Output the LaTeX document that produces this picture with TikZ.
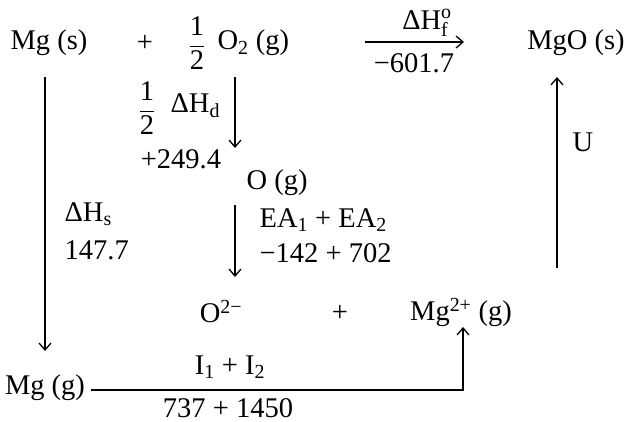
\documentclass[tikz,border=0pt]{standalone}
\usepackage{amsmath}
\usepackage{fontspec}
\setmainfont{Liberation Serif}
\usetikzlibrary{
  arrows.meta,
  positioning,
}
\newcommand{\halffrac}{\genfrac{}{}{0.8pt}{0}{\text{1}}{\text{2}}}

\begin{document}
\begin{tikzpicture}[
    x=1pt, y=-1pt,
    chem/.style={font=\fontsize{28.5}{33}\selectfont, inner sep=0pt},
    -{Straight Barb[length=7pt, width=12pt]}, line width=1.3pt,
  ]
  \useasboundingbox (0,0) rectangle (630,422);

  % Top line: Mg (s) + 1/2 O2 (g) -> MgO (s)
  \node[chem] (mgs)  at (49,43)  {Mg (s)};
  \node[chem] (plusa) at (145,43) {+};
  \node[chem] (half) at (197,43) {$\halffrac$};
  \node[chem, anchor=west] (otwo) at (217,43) {O\textsubscript{2} (g)};
  \node[chem] (mgo)  at (576,43) {MgO (s)};
  \coordinate (fs) at (365,42);
  \coordinate (fe) at (464,42);
  \draw (fs) -- (fe);
  \node[chem] (dhf) at (427,23) {$\text{ΔH}^{\text{o}}_{\text{f}}$};
  \node[chem] (dhfv) at (414,63) {−601.7};

  % Dissociation of O2
  \coordinate (ds) at (235,77);
  \coordinate (de) at (235,148);
  \draw (ds) -- (de);
  \node[chem] (halfd) at (147,108) {$\halffrac$};
  \node[chem, anchor=west] (dhd) at (170,106) {ΔH\textsubscript{d}};
  \node[chem] (dhdv) at (181,159) {+249.4};
  \node[chem, anchor=west] (og) at (246,183) {O (g)};

  % Electron affinities
  \coordinate (es) at (235,205);
  \coordinate (ee) at (235,277);
  \draw (es) -- (ee);
  \node[chem, anchor=west] (ea) at (259,220) {EA\textsubscript{1} + EA\textsubscript{2}};
  \node[chem, anchor=west] (eav) at (259,253) {−142 + 702};

  % Sublimation of Mg
  \coordinate (ss) at (45,77);
  \coordinate (se) at (45,351);
  \draw (ss) -- (se);
  \node[chem, anchor=west] (dhs) at (64,214) {ΔH\textsubscript{s}};
  \node[chem, anchor=west] (dhsv) at (64,250) {147.7};

  % Gaseous ions
  \node[chem] (oion)  at (221,312) {O\textsuperscript{2−}};
  \node[chem] (plusb) at (340,313) {+};
  \node[chem] (mgion) at (461,312) {Mg\textsuperscript{2+} (g)};
  \node[chem] (mgg)   at (45,388)  {Mg (g)};

  % Ionisation
  \coordinate (is) at (91,390);
  \coordinate (ie) at (463,327);
  \draw (is) -| (ie);
  \node[chem] (ion)  at (230,367) {I\textsubscript{1} + I\textsubscript{2}};
  \node[chem] (ionv) at (228,408) {737 + 1450};

  % Lattice energy
  \coordinate (us) at (557,268);
  \coordinate (ue) at (557,77);
  \draw (us) -- (ue);
  \node[chem] (u) at (583,142) {U};
\end{tikzpicture}
\end{document}
